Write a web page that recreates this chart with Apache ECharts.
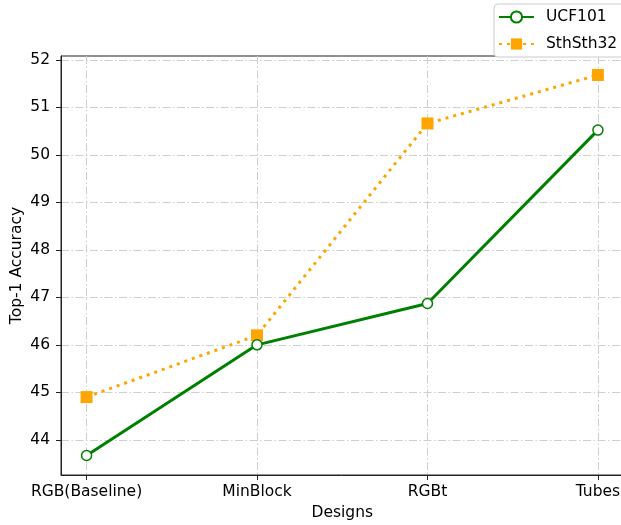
<!DOCTYPE html>
<html>
<head>
<meta charset="utf-8">
<script src="https://cdn.jsdelivr.net/npm/echarts@6/dist/echarts.min.js"></script>
<style>
html,body{margin:0;padding:0;background:#fff;}
#chart{width:621px;height:525px;}
</style>
</head>
<body>
<div id="chart"></div>
<script>
const categories = ['RGB(Baseline)', 'MinBlock', 'RGBt', 'Tubes'];
const ucf101 = [43.67, 46.0, 46.87, 50.52];
const sthsth32 = [44.9, 46.2, 50.66, 51.68];
const yTicks = [44, 45, 46, 47, 48, 49, 50, 51, 52];
const xTicks = [0, 1, 2, 3];

const FONT = 'DejaVu Sans';
const gridLine = { color: '#cfcfcf', width: 1, type: [8, 2.5, 1.5, 2.5] };

const chart = echarts.init(document.getElementById('chart'), null, { renderer: 'canvas' });
chart.setOption({
  animation: false,
  backgroundColor: '#ffffff',
  textStyle: { fontFamily: FONT },
  grid: { left: 61, top: 56, right: -2.5, bottom: 50, outerBoundsMode: 'none', containLabel: false, show: true, borderColor: '#222', borderWidth: 1, backgroundColor: 'transparent' },
  legend: {
    orient: 'vertical',
    left: 494, top: 4,
    padding: [5, 10, 5, 4],
    itemWidth: 35, itemHeight: 14, itemGap: 11,
    backgroundColor: '#fff',
    borderColor: '#cccccc', borderWidth: 1, borderRadius: 4,
    textStyle: { fontFamily: FONT, fontSize: 15.5, color: '#000', padding: [0, 0, 0, 7] },
    data: ['UCF101', 'SthSth32']
  },
  xAxis: {
    type: 'value',
    min: -0.15, max: 3.15,
    name: 'Designs', nameLocation: 'middle', nameGap: 30, nameMoveOverlap: false,
    nameTextStyle: { fontFamily: FONT, fontSize: 15.5, color: '#000' },
    axisLine: { show: true, onZero: false, lineStyle: { color: '#222', width: 1 } },
    axisTick: { show: true, length: 5, inside: false, customValues: xTicks, lineStyle: { color: '#222' } },
    axisLabel: { customValues: xTicks, margin: 9, fontFamily: FONT, fontSize: 15.5, color: '#000', formatter: v => categories[Math.round(v)] || '' },
    splitLine: { show: true, lineStyle: gridLine }
  },
  yAxis: {
    type: 'value',
    min: 43.26, max: 52.08,
    name: 'Top-1 Accuracy', nameLocation: 'middle', nameGap: 36, nameRotate: 90, nameMoveOverlap: false,
    nameTextStyle: { fontFamily: FONT, fontSize: 15.5, color: '#000' },
    axisLine: { show: true, onZero: false, lineStyle: { color: '#222', width: 1 } },
    axisTick: { show: true, length: 5, customValues: yTicks, lineStyle: { color: '#222' } },
    axisLabel: { customValues: yTicks, margin: 11, fontFamily: FONT, fontSize: 15.5, color: '#000' },
    splitLine: { show: true, lineStyle: gridLine }
  },
  series: [
    {
      name: 'UCF101', type: 'line',
      data: ucf101.map((v, i) => [i, v]),
      lineStyle: { color: '#008000', width: 3 },
      itemStyle: { color: '#ffffff', borderColor: '#008000', borderWidth: 1.5 },
      symbol: 'circle', symbolSize: 10, showAllSymbol: true, z: 3
    },
    {
      name: 'SthSth32', type: 'line',
      data: sthsth32.map((v, i) => [i, v]),
      lineStyle: { color: '#FFA500', width: 3, type: [3, 5] },
      itemStyle: { color: '#FFA500', borderColor: '#FFA500', borderWidth: 0 },
      symbol: 'rect', symbolSize: 12, showAllSymbol: true, z: 2
    }
  ]
});
</script>
</body>
</html>
